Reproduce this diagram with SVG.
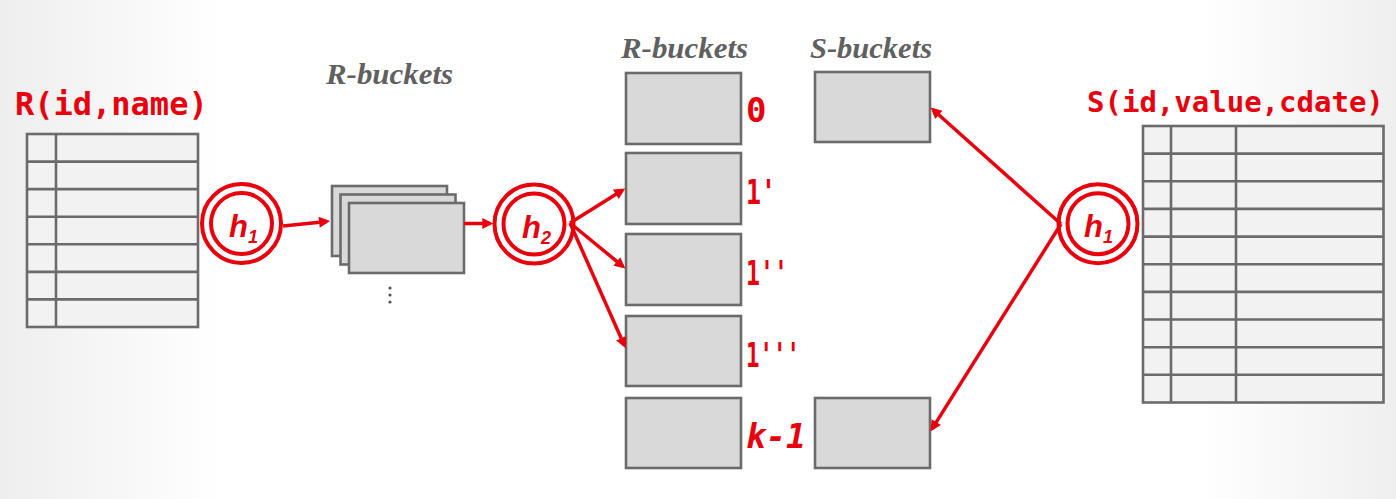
<svg xmlns="http://www.w3.org/2000/svg" width="1396" height="499" viewBox="0 0 1396 499">
<defs>
<linearGradient id="bg" x1="0" y1="0" x2="1" y2="0">
<stop offset="0" stop-color="#eeeeee"/>
<stop offset="0.16" stop-color="#ffffff"/>
<stop offset="0.86" stop-color="#ffffff"/>
<stop offset="1" stop-color="#efefef"/>
</linearGradient>
<marker id="ah" viewBox="0 0 10 10" refX="7" refY="5" markerUnits="userSpaceOnUse" markerWidth="15" markerHeight="11" orient="auto">
<path d="M0,0 L10,5 L0,10 z" fill="#e8000d"/>
</marker>
<style>
.tbl{fill:#f2f2f2;stroke:#6b6b6b;stroke-width:2.6}
.ln{stroke:#6b6b6b;stroke-width:2.6;fill:none}
.bkt{fill:#d9d9d9;stroke:#6b6b6b;stroke-width:2.6}
.hc{fill:none;stroke:#e8000d;stroke-width:4}
.ht{font-family:"Liberation Sans",Arial,sans-serif;font-style:italic;font-weight:bold;fill:#e8000d;font-size:31px}
.mono{font-family:"DejaVu Sans Mono","Liberation Mono",monospace;font-weight:bold;fill:#e8000d}
.lbl{font-family:"Liberation Serif","Times New Roman",serif;font-style:italic;font-weight:bold;fill:#606060;font-size:30px}
.arr{stroke:#e8000d;stroke-width:3.5;fill:none;marker-end:url(#ah)}
</style>
</defs>
<rect x="0" y="0" width="1396" height="499" fill="url(#bg)"/>

<g id="tableR">
<text class="mono" x="15" y="115" font-size="32">R(id,name)</text>
<rect class="tbl" x="27" y="134" width="171" height="193"/>
<path class="ln" d="M56,134V327 M27,161.6H198 M27,189.1H198 M27,216.7H198 M27,244.3H198 M27,271.9H198 M27,299.4H198"/>
</g>

<g id="hashR1">
<circle class="hc" cx="241.5" cy="223.5" r="39.5"/>
<circle class="hc" cx="241.5" cy="223.5" r="30.5"/>
<text class="ht" x="229" y="237">h<tspan font-size="18" dy="6">1</tspan></text>
</g>

<g id="stackedBuckets">
<rect class="bkt" x="332" y="186" width="115" height="70"/>
<rect class="bkt" x="340.5" y="194.5" width="115" height="70"/>
<rect class="bkt" x="349" y="203" width="115" height="70"/>
<text class="lbl" x="326" y="84" textLength="127" lengthAdjust="spacingAndGlyphs">R-buckets</text>
<circle cx="390" cy="288" r="1.6" fill="#555"/>
<circle cx="390" cy="295" r="1.6" fill="#555"/>
<circle cx="390" cy="302" r="1.6" fill="#555"/>
</g>

<g id="hashR2">
<circle class="hc" cx="534" cy="224" r="39.5"/>
<circle class="hc" cx="534" cy="224" r="30.5"/>
<text class="ht" x="522" y="238">h<tspan font-size="18" dy="6">2</tspan></text>
</g>

<g id="rBuckets">
<text class="lbl" x="621" y="58" textLength="127" lengthAdjust="spacingAndGlyphs">R-buckets</text>
<rect class="bkt" x="626" y="73" width="115" height="71"/>
<rect class="bkt" x="626" y="153" width="115" height="71"/>
<rect class="bkt" x="626" y="234" width="115" height="71"/>
<rect class="bkt" x="626" y="316" width="115" height="70"/>
<rect class="bkt" x="626" y="398" width="115" height="70"/>
<text class="mono" x="746" y="122" font-size="34">0</text>
<text class="mono" x="746" y="204" font-size="34" textLength="30" lengthAdjust="spacingAndGlyphs">1'</text>
<text class="mono" x="746" y="285" font-size="34" textLength="42" lengthAdjust="spacingAndGlyphs">1''</text>
<text class="mono" x="746" y="367" font-size="34" textLength="54" lengthAdjust="spacingAndGlyphs">1'''</text>
<text class="mono" x="746" y="448" font-size="34" font-style="italic" textLength="60" lengthAdjust="spacingAndGlyphs">k-1</text>
</g>

<g id="sBuckets">
<text class="lbl" x="810" y="58" textLength="122" lengthAdjust="spacingAndGlyphs">S-buckets</text>
<rect class="bkt" x="815" y="72" width="115" height="70"/>
<rect class="bkt" x="815" y="398" width="115" height="70"/>
</g>

<g id="hashS1">
<circle class="hc" cx="1098" cy="223.7" r="39.5"/>
<circle class="hc" cx="1098" cy="223.7" r="30.5"/>
<text class="ht" x="1084" y="237">h<tspan font-size="18" dy="6">1</tspan></text>
</g>

<g id="tableS">
<text class="mono" x="1087" y="112" font-size="29">S(id,value,cdate)</text>
<rect class="tbl" x="1143" y="126" width="240.5" height="276.5"/>
<path class="ln" d="M1171,126V402.5 M1236,126V402.5 M1143,153.6H1383.5 M1143,181.3H1383.5 M1143,208.9H1383.5 M1143,236.6H1383.5 M1143,264.2H1383.5 M1143,291.9H1383.5 M1143,319.5H1383.5 M1143,347.2H1383.5 M1143,374.8H1383.5"/>
</g>

<g id="connectors">
<line class="arr" x1="283" y1="226" x2="326.8" y2="221.4"/>
<line class="arr" x1="464" y1="223.5" x2="490" y2="223.5"/>
<line class="arr" x1="570" y1="223" x2="622.4" y2="190.2"/>
<line class="arr" x1="570" y1="223" x2="622.8" y2="266.3"/>
<line class="arr" x1="570" y1="223" x2="624.3" y2="345.2"/>
<line class="arr" x1="1061" y1="224" x2="933.1" y2="109.8"/>
<line class="arr" x1="1061" y1="224" x2="932.2" y2="428.6"/>
</g>
</svg>
